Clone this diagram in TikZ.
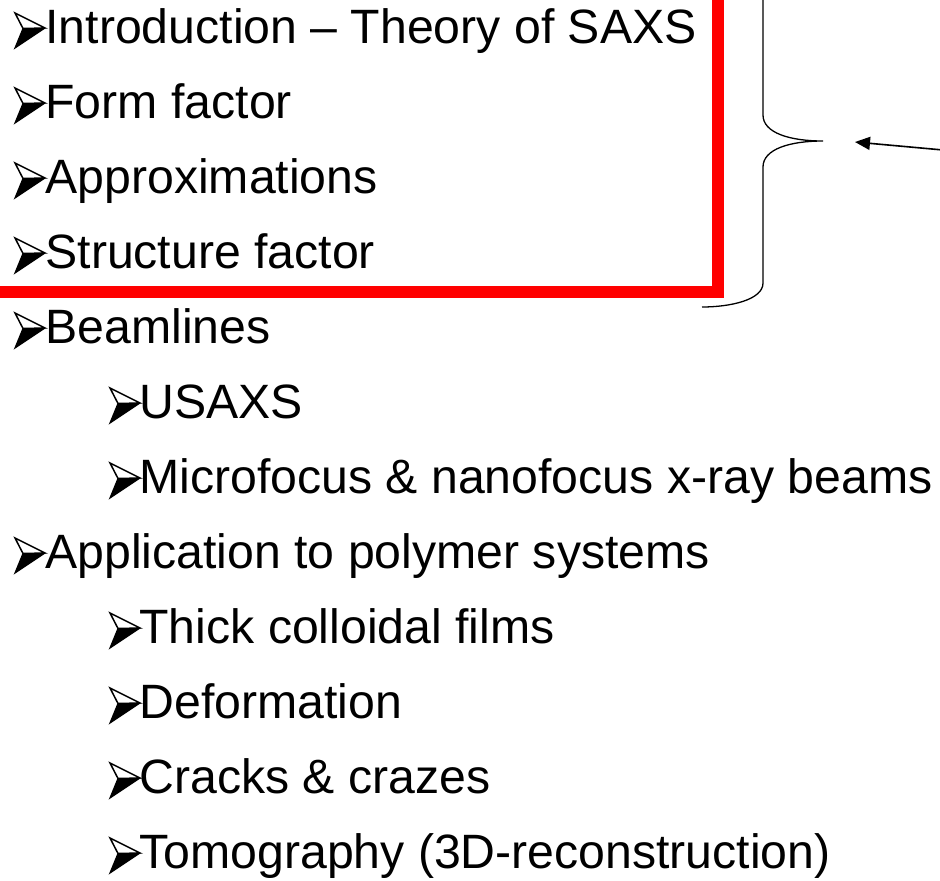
\documentclass[tikz,border=0pt]{standalone}
\usepackage{fontspec}
\setmainfont{Liberation Sans}
\usetikzlibrary{arrows.meta}
\tikzset{
  item/.style={anchor=base west, inner sep=0pt, outer sep=0pt, font=\fontsize{48.2}{58}\selectfont},
  bul/.pic={
    \fill[black] (8,-14.5) -- (30,-15) -- (0,5) -- cycle;
    \draw[black, line width=1.5pt, line join=miter] (0,-30) -- (30,-15) -- (8,-14.5) -- cycle;
    \draw[black, line width=1.2pt, line join=miter] (8,-14.5) -- (0,5) -- (30,-15);
  },
  redbox/.style={draw=red, line width=12pt, line join=miter},
  brace/.style={draw=black, line width=1.3pt},
  pointer/.style={draw=black, line width=1.6pt, -{Triangle[length=15pt, width=13pt]}}
}
\begin{document}
\begin{tikzpicture}[x=1pt, y=-1pt]
\useasboundingbox (0,0) rectangle (940,881);
\fill[white] (0,0) rectangle (940,881);
% red frame
\draw[redbox] (-40,-40) rectangle (718,292);
% bullets
\foreach \yy in {43,118,193,268,343,568} { \pic at (15,\yy) {bul}; }
\foreach \yy in {418,493,643,718,793,868} { \pic at (110,\yy) {bul}; }
% texts
\node[item] (t1) at (45.5,43) {Introduction – Theory of SAXS};
\node[item] (t2) at (45.5,118) {Form factor};
\node[item] (t3) at (45.5,193) {Approximations};
\node[item] (t4) at (45.5,268) {Structure factor};
\node[item] (t5) at (45.5,343) {Beamlines};
\node[item] (t6) at (139.5,418) {USAXS};
\node[item] (t7) at (139.5,493) {Microfocus \& nanofocus x-ray beams};
\node[item] (t8) at (45.5,568) {Application to polymer systems};
\node[item] (t9) at (139.5,643) {Thick colloidal films};
\node[item] (t10) at (139.5,718) {Deformation};
\node[item] (t11) at (139.5,793) {Cracks \& crazes};
\node[item] (t12) at (139.5,868) {Tomography (3D-reconstruction)};
% brace
\draw[brace] (702,-25) .. controls (730,-25) and (763,-18) .. (763,-1)
  -- (763,115) .. controls (763,133) and (790,141) .. (823,141)
  .. controls (790,141) and (763,149) .. (763,167)
  -- (763,283) .. controls (763,300) and (730,307) .. (702,307);
% arrow
\coordinate (arrS) at (965,152);
\coordinate (arrE) at (855,142);
\draw[pointer] (arrS) -- (arrE);
\end{tikzpicture}
\end{document}
